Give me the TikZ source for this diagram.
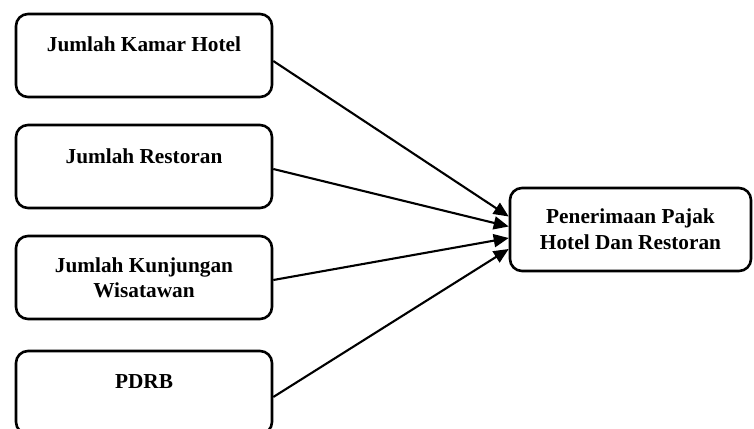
\documentclass[tikz,border=0pt]{standalone}
\usepackage{fontspec}
\setmainfont{Liberation Serif}
\usetikzlibrary{arrows.meta}
\begin{document}
\begin{tikzpicture}[x=1pt,y=-1pt,
  box/.style={draw=black,line width=2.6pt,rounded corners=12pt,minimum width=256pt,minimum height=83pt,inner sep=0pt,fill=white},
  rbox/.style={box,minimum width=241pt},
  lbl/.style={font=\fontsize{21.3}{25}\selectfont\bfseries,anchor=base,inner sep=0pt},
  conn/.style={line width=2.1pt,-{Triangle[length=15pt,width=13pt]}}]
\useasboundingbox (0,0) rectangle (754,428);
\begin{scope}
\clip (0,0) rectangle (754,428);
\node[box] (b1) at (144,55.5) {};
\node[box] (b2) at (144,166.5) {};
\node[box] (b3) at (144,277.5) {};
\node[box] (b4) at (144,392.5) {};
\node[rbox] (r) at (630.5,229.5) {};
\end{scope}
\node[lbl] (t1) at (144,52) {Jumlah Kamar Hotel};
\node[lbl] (t2) at (144,163) {Jumlah Restoran};
\node[lbl] (t3a) at (144,272) {Jumlah Kunjungan};
\node[lbl] (t3b) at (144,297) {Wisatawan};
\node[lbl] (t4) at (144,388) {PDRB};
\node[lbl] (ra) at (630.5,223) {Penerimaan Pajak};
\node[lbl] (rb) at (630.5,249) {Hotel Dan Restoran};
\draw[conn] ([yshift=-5.5pt]b1.east) -- ([yshift=13pt]r.west);
\draw[conn] ([yshift=-2.5pt]b2.east) -- ([yshift=3pt]r.west);
\draw[conn] ([yshift=-2.5pt]b3.east) -- ([yshift=-8.5pt]r.west);
\draw[conn] ([yshift=-4.5pt]b4.east) -- ([yshift=-19.5pt]r.west);
\end{tikzpicture}
\end{document}
